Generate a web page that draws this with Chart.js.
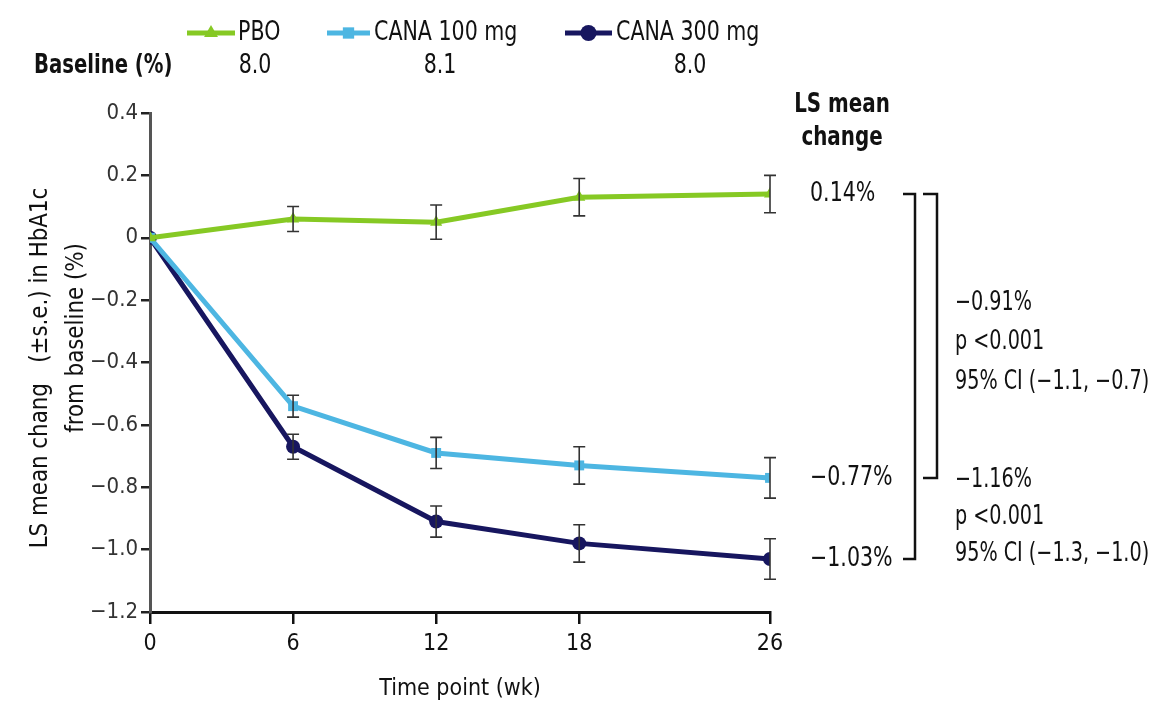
<!DOCTYPE html>
<html>
<head>
<meta charset="utf-8">
<script src="https://cdn.jsdelivr.net/npm/chart.js@4.4.0/dist/chart.umd.min.js"></script>
<style>
  html, body { margin: 0; padding: 0; background: #fff; }
  #wrap { width: 1167px; height: 711px; }
</style>
</head>
<body>
<div id="wrap"><canvas id="chart"></canvas></div>
<script>
/* ── Données ─────────────────────────────────────────── */
const weeks      = [0, 6, 12, 18, 26];
const pbo        = [0, 0.06, 0.05, 0.13, 0.14];
const pboSe      = [0, 0.04, 0.055, 0.06, 0.06];
const cana100    = [0, -0.54, -0.69, -0.73, -0.77];
const cana100Se  = [0, 0.035, 0.05, 0.06, 0.065];
const cana300    = [0, -0.67, -0.91, -0.98, -1.03];
const cana300Se  = [0, 0.04, 0.05, 0.06, 0.065];

const seriesNames  = ['PBO', 'CANA 100 mg', 'CANA 300 mg'];
const baselines    = ['8.0', '8.1', '8.0'];
const lsMeanLabels = ['0.14%', '\u22120.77%', '\u22121.03%'];
const yTickValues  = [0.4, 0.2, 0, -0.2, -0.4, -0.6, -0.8, -1.0, -1.2];
const yTickLabels  = ['0.4', '0.2', '0', '\u22120.2', '\u22120.4', '\u22120.6', '\u22120.8', '\u22121.0', '\u22121.2'];
const statsA = ['\u22120.91%', 'p <0.001', '95% CI (\u22121.1, \u22120.7)'];
const statsB = ['\u22121.16%', 'p <0.001', '95% CI (\u22121.3, \u22121.0)'];

const FONT = "'Liberation Sans Narrow', 'DejaVu Sans Condensed', 'Arial Narrow', sans-serif";
const colors = ['#86c924', '#4db6e2', '#17165f'];
const styles = ['triangle', 'rect', 'circle'];
const seArrays = [pboSe, cana100Se, cana300Se];

const toPoints = vals => weeks.map((w, i) => ({ x: w, y: vals[i] }));

// texte compressé horizontalement (la police d'origine est étroite)
function narrowText(ctx, text, x, y, sx) {
  ctx.save();
  ctx.translate(x, y);
  ctx.scale(sx, 1);
  ctx.fillText(text, 0, 0);
  ctx.restore();
}

/* ── Barres d'erreur ─────────────────────────────────── */
const errorBars = {
  id: 'errorBars',
  afterDatasetsDraw(chart) {
    const { ctx, scales: { x, y } } = chart;
    ctx.save();
    ctx.strokeStyle = '#333';
    ctx.lineWidth = 1.6;
    chart.data.datasets.forEach((ds, d) => {
      ds.data.forEach((p, i) => {
        const se = seArrays[d][i];
        if (!se) return;
        const px = x.getPixelForValue(p.x);
        const top = y.getPixelForValue(p.y + se);
        const bot = y.getPixelForValue(p.y - se);
        ctx.beginPath();
        ctx.moveTo(px, top); ctx.lineTo(px, bot);
        ctx.moveTo(px - 6, top); ctx.lineTo(px + 6, top);
        ctx.moveTo(px - 6, bot); ctx.lineTo(px + 6, bot);
        ctx.stroke();
      });
    });
    ctx.restore();
  }
};

/* ── Légende, annotations, titres ────────────────────── */
const annotations = {
  id: 'annotations',
  afterDraw(chart) {
    const { ctx, scales: { y } } = chart;
    ctx.save();
    ctx.fillStyle = '#111';
    ctx.textBaseline = 'middle';

    // légende
    const legendX = [[187, 235, 238], [327, 370, 374], [565, 612, 616]];
    seriesNames.forEach((name, i) => {
      const [x0, x1, tx] = legendX[i];
      ctx.strokeStyle = colors[i];
      ctx.lineWidth = 5;
      ctx.beginPath(); ctx.moveTo(x0, 33); ctx.lineTo(x1, 33); ctx.stroke();
      ctx.fillStyle = colors[i];
      Chart.helpers.drawPoint(ctx, { pointStyle: styles[i], radius: 8, borderWidth: 0 }, (x0 + x1) / 2, 33);
      ctx.fillStyle = '#111';
      ctx.font = `26px ${FONT}`;
      ctx.textAlign = 'left';
      narrowText(ctx, name, tx, 33, 0.88);
    });

    // ligne baseline
    ctx.font = `bold 26px ${FONT}`;
    ctx.textAlign = 'left';
    narrowText(ctx, 'Baseline (%)', 34, 66, 0.84);
    ctx.font = `26px ${FONT}`;
    ctx.textAlign = 'center';
    [255, 440, 690].forEach((cx, i) => narrowText(ctx, baselines[i], cx, 66, 0.88));

    // titre axe Y (deux lignes)
    ctx.save();
    ctx.translate(40, 368);
    ctx.rotate(-Math.PI / 2);
    ctx.font = `25px ${FONT}`;
    ctx.textAlign = 'center';
    narrowText(ctx, 'LS mean chang   (\u00b1s.e.) in HbA1c', 0, 0, 0.95);
    narrowText(ctx, 'from baseline (%)', 30, 36, 0.95);
    ctx.restore();

    // colonne LS mean change
    ctx.font = `bold 26px ${FONT}`;
    ctx.textAlign = 'center';
    narrowText(ctx, 'LS mean', 842, 105, 0.85);
    narrowText(ctx, 'change', 842, 138, 0.85);
    ctx.font = `26px ${FONT}`;
    ctx.textAlign = 'left';
    const lastVals = [pbo[4], cana100[4], cana300[4]];
    lastVals.forEach((v, i) => narrowText(ctx, lsMeanLabels[i], 810, y.getPixelForValue(v), 0.88));

    // crochets
    const yTop = y.getPixelForValue(pbo[4]);
    const yMid = y.getPixelForValue(cana100[4]);
    const yBot = y.getPixelForValue(cana300[4]);
    ctx.strokeStyle = '#111';
    ctx.lineWidth = 2.5;
    ctx.beginPath();
    ctx.moveTo(903, yTop); ctx.lineTo(915, yTop); ctx.lineTo(915, yBot); ctx.lineTo(903, yBot);
    ctx.moveTo(923, yTop); ctx.lineTo(937, yTop); ctx.lineTo(937, yMid); ctx.lineTo(923, yMid);
    ctx.stroke();

    // statistiques
    statsA.forEach((t, i) => narrowText(ctx, t, 955, 303 + i * 39.5, 0.82));
    statsB.forEach((t, i) => narrowText(ctx, t, 955, 480 + i * 37, 0.82));
    ctx.restore();
  }
};

/* ── Graphique ───────────────────────────────────────── */
const ctx = document.getElementById('chart').getContext('2d');
const datasets = [pbo, cana100, cana300].map((vals, i) => ({
  label: seriesNames[i],
  data: toPoints(vals),
  borderColor: colors[i],
  backgroundColor: colors[i],
  borderWidth: 5,
  pointStyle: styles[i],
  pointRadius: 7,
  pointBorderWidth: 0,
  tension: 0
}));

new Chart(ctx, {
  type: 'line',
  data: { datasets },
  options: {
    responsive: true,
    maintainAspectRatio: false,
    animation: false,
    layout: { padding: { top: 113, right: 397, left: 0, bottom: 0 } },
    plugins: { legend: { display: false }, tooltip: { enabled: false } },
    scales: {
      x: {
        type: 'linear',
        min: 0,
        max: 26,
        afterFit: s => { s.height = 99; },
        afterBuildTicks: s => { s.ticks = weeks.map(v => ({ value: v })); },
        border: { display: true, color: '#111', width: 3 },
        grid: { drawOnChartArea: false, drawTicks: true, tickLength: 12, color: '#111', lineWidth: 2.5 },
        ticks: { color: '#111', font: { family: FONT, size: 23 }, padding: 6, maxRotation: 0 },
        title: { display: true, text: 'Time point (wk)', color: '#111', font: { family: FONT, size: 23 }, padding: { top: 4, bottom: 8 } }
      },
      y: {
        min: -1.2,
        max: 0.4,
        afterFit: s => { s.width = 150; },
        afterBuildTicks: s => { s.ticks = yTickValues.map(v => ({ value: v })); },
        border: { display: true, color: '#555', width: 3 },
        grid: { drawOnChartArea: false, drawTicks: true, tickLength: 9, color: '#222', lineWidth: 2.5 },
        ticks: {
          color: '#333',
          font: { family: FONT, size: 22 },
          padding: 3,
          callback: (v, i) => yTickLabels[i]
        }
      }
    }
  },
  plugins: [errorBars, annotations]
});
</script>
</body>
</html>
